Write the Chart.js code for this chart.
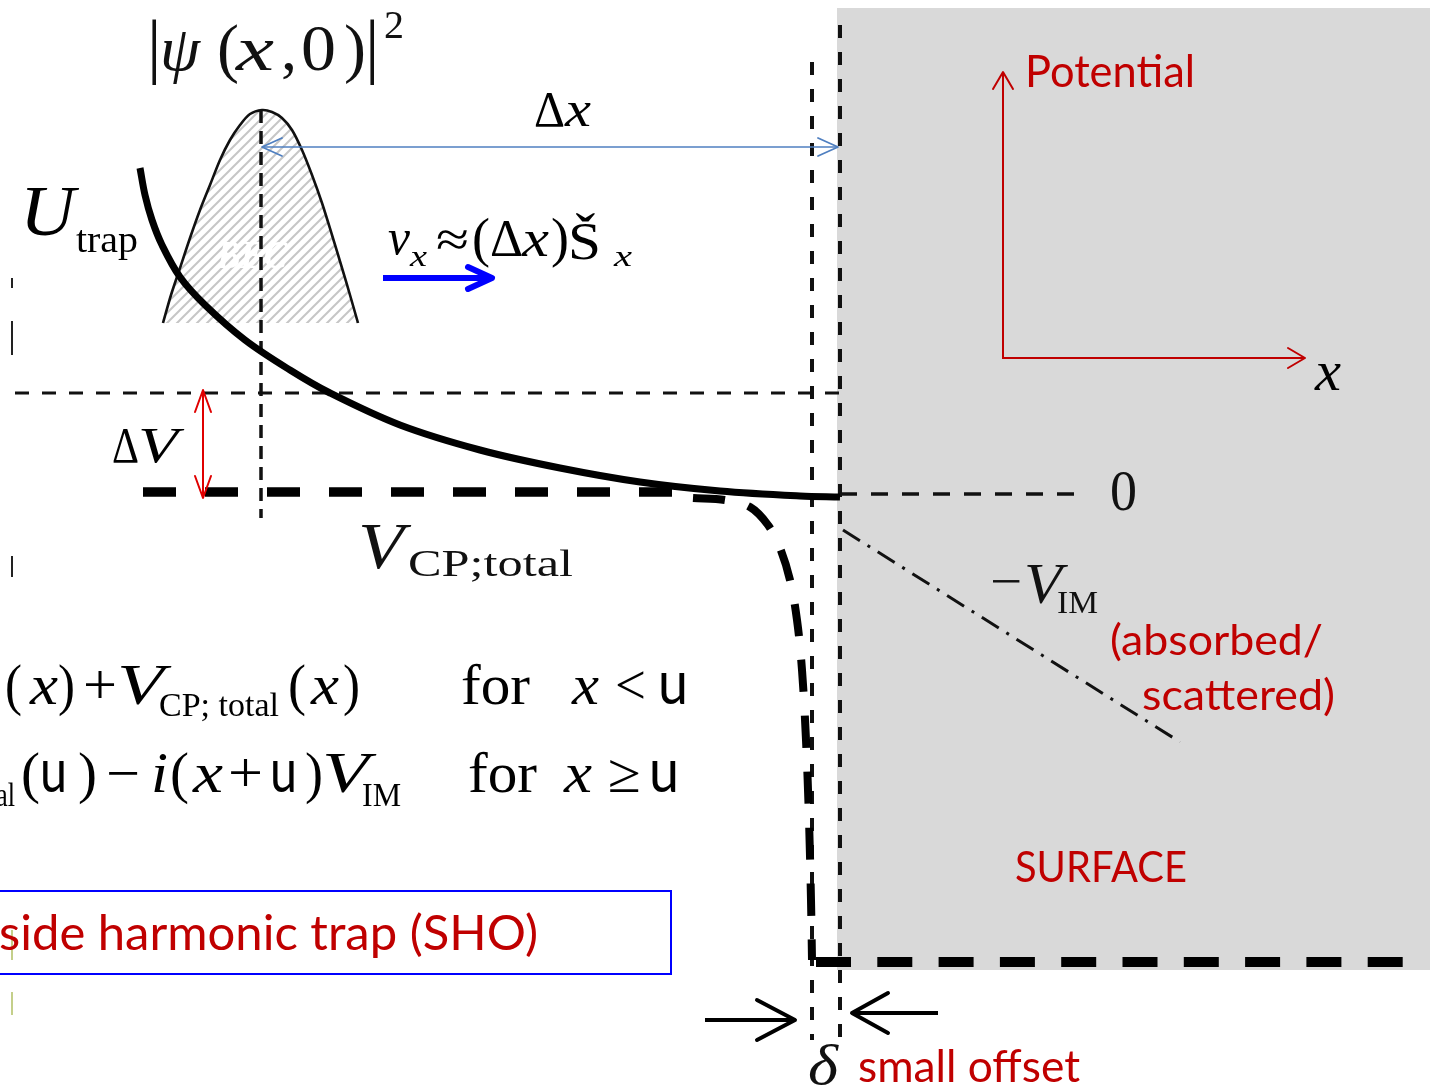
<!DOCTYPE html>
<html><head><meta charset="utf-8">
<style>html,body{margin:0;padding:0;background:#fff;overflow:hidden}#wrap{width:1430px;height:1089px}</style>
<script src="https://cdn.jsdelivr.net/npm/chart.js@4.4.1/dist/chart.umd.min.js"></script>
</head><body><div id="wrap"><canvas id="c" width="1430" height="1089"></canvas></div>
<script>
// ===== data (diagram units on a 1430 x 1089 grid, y downwards) =====
const trapX = [140,145,152,162,180,205,245,290,330,400,480,560,640,720,800,840];
const trapY = [168,195,220,245,277,305,340,370,393,425,450,468,482,491,496,497];
const becX  = [163,171,180,190,200,210,220,230,240,250,262,272,282,292,302,312,322,332,342,350,358];
const becY  = [323,295,268,238,210,185,160,140,125,114,110,112,118,130,150,175,203,235,268,295,323];
const becBase = 323;
const cpX = [143,690];           const cpY = [492,492];
const levelX = [15,840];         const levelY = [393,393];
const centerX = [261,261];       const centerY = [110,518];
const wallLX = [812,812];        const wallLY = [62,1040];
const wallRX = [840,840];        const wallRY = [25,1040];
const zeroX = [840,1075];        const zeroY = [494,494];
const imX = [843,1180];          const imY = [530,742];
const steepX = [693,725,750,768,780,790,797,802,806,809,811,812];
const steepY = [498,500,507,525,548,580,620,670,740,820,900,960];
const floorX = [816,1404];       const floorY = [962,962];
const surfX = [837,1430];        const surfY = [8,8];     const surfBottom = 970;
const boxX = [-5,671,671,-5];    const boxY = [891,891,974,974];
const dxArrowX = [262,838];      const dxArrowY = [147,147];
const dvArrowX = [203,203];      const dvArrowY = [390,498];
const vArrowX = [383,492];       const vArrowY = [278,278];
const axesX = [1003,1003,1305];  const axesY = [72,358,358];
const offLX = [705,795];         const offLY = [1020,1020];
const offRX = [938,852];         const offRY = [1013,1013];
const markX = [12,12,null,12,12,null,12,12];
const markY = [278,288,null,321,355,null,556,577];
const mark2X = [12,12,null,12,12];
const mark2Y = [930,960,null,992,1015];

const pts = (xs, ys) => xs.map((x, i) => ({x: x, y: (x === null ? null : ys[i])}));

// hatch pattern for the condensate
const tile = document.createElement('canvas');
tile.width = 10; tile.height = 10;
const tc = tile.getContext('2d');
tc.strokeStyle = '#c6c6c6'; tc.lineWidth = 2;
tc.beginPath(); tc.moveTo(-2, 12); tc.lineTo(12, -2); tc.stroke();
tc.beginPath(); tc.moveTo(-2, 2); tc.lineTo(2, -2); tc.stroke();
tc.beginPath(); tc.moveTo(8, 12); tc.lineTo(12, 8); tc.stroke();
const hatch = document.getElementById('c').getContext('2d').createPattern(tile, 'repeat');

const RED = '#c00000';
const SERIF = 'Liberation Serif';
const SANS = 'Lato';

// text annotations: [text, x, baseline y, font, color, target width]
const labels = [
  ['|', 147, 70, '72px ' + SERIF, '#111', 0],
  ['ψ', 160, 70, 'italic 64px ' + SERIF, '#111', 40],
  ['(', 217, 70, '66px ' + SERIF, '#111', 0],
  ['x', 236, 70, 'italic 64px ' + SERIF, '#111', 38],
  [',', 281, 70, '64px ' + SERIF, '#111', 0],
  ['0', 301, 70, '66px ' + SERIF, '#111', 35],
  [')', 344, 70, '66px ' + SERIF, '#111', 0],
  ['|', 365, 70, '72px ' + SERIF, '#111', 0],
  ['2', 384, 38, '40px ' + SERIF, '#111', 0],
  ['Δ', 534, 126, '50px ' + SERIF, '#000', 31],
  ['x', 565, 126, 'italic 50px ' + SERIF, '#000', 26],
  ['U', 20, 235, 'italic 72px ' + SERIF, '#000', 55],
  ['trap', 76, 252, '38px ' + SERIF, '#000', 62],
  ['v', 388, 254, 'italic 50px ' + SERIF, '#000', 22],
  ['x', 410, 266, 'italic 30px ' + SERIF, '#000', 17],
  ['≈', 436, 256, '50px ' + SERIF, '#000', 33],
  ['(', 472, 256, '54px ' + SERIF, '#000', 0],
  ['Δ', 490, 256, '52px ' + SERIF, '#000', 33],
  ['x', 522, 256, 'italic 52px ' + SERIF, '#000', 27],
  [')', 551, 256, '54px ' + SERIF, '#000', 0],
  ['Š', 568, 259, '52px ' + SERIF, '#000', 33],
  ['x', 614, 266, 'italic 30px ' + SERIF, '#000', 18],
  ['Δ', 112, 462, '50px ' + SERIF, '#000', 27],
  ['V', 138, 462, 'italic 50px ' + SERIF, '#000', 40],
  ['V', 358, 568, 'italic 66px ' + SERIF, '#111', 46],
  ['CP;total', 408, 576, '38px ' + SERIF, '#111', 165],
  ['0', 1110, 510, '58px ' + SERIF, '#111', 27],
  ['−', 990, 598, '50px ' + SERIF, '#111', 32],
  ['V', 1024, 603, 'italic 56px ' + SERIF, '#111', 38],
  ['IM', 1057, 613, '32px ' + SERIF, '#111', 41],
  // formula line 1
  ['(', 5, 704, '56px ' + SERIF, '#000', 17],
  ['x', 30, 704, 'italic 56px ' + SERIF, '#000', 28],
  [')', 58, 704, '56px ' + SERIF, '#000', 17],
  ['+', 83, 704, '56px ' + SERIF, '#000', 34],
  ['V', 117, 704, 'italic 56px ' + SERIF, '#000', 47],
  ['CP; total', 159, 716, '33px ' + SERIF, '#000', 120],
  ['(', 288, 704, '56px ' + SERIF, '#000', 18],
  ['x', 311, 704, 'italic 56px ' + SERIF, '#000', 28],
  [')', 343, 704, '56px ' + SERIF, '#000', 17],
  ['for', 461, 704, '56px ' + SERIF, '#000', 69],
  ['x', 572, 704, 'italic 56px ' + SERIF, '#000', 27],
  ['<', 615, 704, '56px ' + SERIF, '#000', 31],
  ['u', 658, 704, '60px ' + SANS, '#000', 30],
  // formula line 2
  ['al', -4, 806, '33px ' + SERIF, '#000', 19],
  ['(', 21, 792, '56px ' + SERIF, '#000', 19],
  ['u', 40, 792, '60px ' + SANS, '#000', 27],
  [')', 78, 792, '56px ' + SERIF, '#000', 19],
  ['−', 106, 792, '56px ' + SERIF, '#000', 34],
  ['i', 151, 792, 'italic 56px ' + SERIF, '#000', 17],
  ['(', 170, 792, '56px ' + SERIF, '#000', 19],
  ['x', 193, 792, 'italic 56px ' + SERIF, '#000', 30],
  ['+', 228, 792, '56px ' + SERIF, '#000', 35],
  ['u', 270, 792, '60px ' + SANS, '#000', 27],
  [')', 305, 792, '56px ' + SERIF, '#000', 18],
  ['V', 322, 792, 'italic 56px ' + SERIF, '#000', 47],
  ['IM', 362, 806, '33px ' + SERIF, '#000', 39],
  ['for', 468, 792, '56px ' + SERIF, '#000', 69],
  ['x', 564, 792, 'italic 56px ' + SERIF, '#000', 28],
  ['≥', 608, 792, '56px ' + SERIF, '#000', 33],
  ['u', 649, 792, '60px ' + SANS, '#000', 30],
  // red annotations
  ['side harmonic trap (SHO)', -1, 950, '48px ' + SANS, RED, 539],
  ['Potential', 1025, 87, '44px ' + SANS, RED, 170],
  ['x', 1315, 390, 'italic 56px ' + SERIF, '#000', 26],
  ['(absorbed/', 1110, 655, '42px ' + SANS, RED, 213],
  ['scattered)', 1142, 710, '42px ' + SANS, RED, 193],
  ['SURFACE', 1015, 882, '42px ' + SANS, RED, 172],
  ['δ', 808, 1084, 'italic 56px ' + SERIF, '#111', 30],
  ['small offset', 858, 1082, '44px ' + SANS, RED, 222]
];
const becLabel = ['BEC', 217, 268, 'italic bold 40px ' + SERIF, '#ffffff', 70];

function drawLabel(chart, L) {
  const ctx = chart.ctx, xs = chart.scales.x, ys = chart.scales.y;
  const px = xs.getPixelForValue(L[1]), py = ys.getPixelForValue(L[2]);
  ctx.save();
  ctx.font = L[3]; ctx.fillStyle = L[4]; ctx.textBaseline = 'alphabetic'; ctx.textAlign = 'left';
  const m = ctx.measureText(L[0]).width;
  const sx = L[5] ? L[5] / m : 1;
  ctx.translate(px, py); ctx.scale(sx, 1);
  ctx.fillText(L[0], 0, 0);
  ctx.restore();
}

function head(ctx, tx, ty, fx, fy, len, half, color, width) {
  const a = Math.atan2(ty - fy, tx - fx), c = Math.cos(a), s = Math.sin(a);
  ctx.save();
  ctx.strokeStyle = color; ctx.lineWidth = width; ctx.lineCap = 'round'; ctx.lineJoin = 'round';
  ctx.beginPath();
  ctx.moveTo(tx - len * c + half * s, ty - len * s - half * c);
  ctx.lineTo(tx, ty);
  ctx.lineTo(tx - len * c - half * s, ty - len * s + half * c);
  ctx.stroke();
  ctx.restore();
}

const diagramPlugin = {
  id: 'diagram',
  afterDatasetDraw(chart, args) {
    const ds = chart.data.datasets[args.index];
    if (ds.id === 'bec') drawLabel(chart, becLabel);
  },
  afterDatasetsDraw(chart) {
    const ctx = chart.ctx;
    chart.data.datasets.forEach((ds, i) => {
      if (!ds.heads) return;
      const p = chart.getDatasetMeta(i).data;
      const h = ds.heads;
      if (h.end) head(ctx, p[p.length-1].x, p[p.length-1].y, p[p.length-2].x, p[p.length-2].y, h.len, h.half, ds.borderColor, h.w);
      if (h.start) head(ctx, p[0].x, p[0].y, p[1].x, p[1].y, h.len, h.half, ds.borderColor, h.w);
    });
    labels.forEach(L => drawLabel(chart, L));
  }
};

const base = {showLine: true, pointRadius: 0, fill: false, tension: 0, borderCapStyle: 'butt'};
const datasets = [
  Object.assign({}, base, {id: 'surface', data: pts(surfX, surfY), borderWidth: 0, borderColor: 'rgba(0,0,0,0)', backgroundColor: '#d9d9d9', fill: {value: surfBottom}, order: 100}),
  Object.assign({}, base, {id: 'box', data: pts(boxX.concat([boxX[0]]), boxY.concat([boxY[0]])), borderColor: '#0000ff', borderWidth: 2, order: 95}),
  Object.assign({}, base, {id: 'bec', data: pts(becX, becY), borderColor: '#111', borderWidth: 2.6, backgroundColor: hatch, fill: {value: becBase}, tension: 0.3, order: 90}),
  Object.assign({}, base, {id: 'level', data: pts(levelX, levelY), borderColor: '#111', borderWidth: 3.2, borderDash: [14, 13], order: 60}),
  Object.assign({}, base, {id: 'center', data: pts(centerX, centerY), borderColor: '#111', borderWidth: 3.5, borderDash: [13, 8], order: 60}),
  Object.assign({}, base, {id: 'wallL', data: pts(wallLX, wallLY), borderColor: '#111', borderWidth: 4, borderDash: [13, 14], order: 60}),
  Object.assign({}, base, {id: 'wallR', data: pts(wallRX, wallRY), borderColor: '#111', borderWidth: 4, borderDash: [13, 14], order: 60}),
  Object.assign({}, base, {id: 'zero', data: pts(zeroX, zeroY), borderColor: '#111', borderWidth: 3.5, borderDash: [17, 14], order: 60}),
  Object.assign({}, base, {id: 'im', data: pts(imX, imY), borderColor: '#111', borderWidth: 3, borderDash: [20, 9, 3, 9], order: 60}),
  Object.assign({}, base, {id: 'cp', data: pts(cpX, cpY), borderColor: '#000', borderWidth: 9.5, borderDash: [33, 29], order: 50}),
  Object.assign({}, base, {id: 'steep', data: pts(steepX, steepY), borderColor: '#000', borderWidth: 8, borderDash: [32, 24], tension: 0.35, order: 50}),
  Object.assign({}, base, {id: 'floor', data: pts(floorX, floorY), borderColor: '#000', borderWidth: 10, borderDash: [35, 26.3], order: 50}),
  Object.assign({}, base, {id: 'trap', data: pts(trapX, trapY), borderColor: '#000', borderWidth: 7, tension: 0.35, order: 40}),
  Object.assign({}, base, {id: 'dx', data: pts(dxArrowX, dxArrowY), borderColor: '#4f7fc0', borderWidth: 1.6, heads: {start: true, end: true, len: 20, half: 9, w: 1.8}, order: 30}),
  Object.assign({}, base, {id: 'dv', data: pts(dvArrowX, dvArrowY), borderColor: '#e00000', borderWidth: 2, heads: {start: true, end: true, len: 22, half: 8, w: 2}, order: 30}),
  Object.assign({}, base, {id: 'v', data: pts(vArrowX, vArrowY), borderColor: '#0000ff', borderWidth: 6, heads: {end: true, len: 24, half: 11, w: 6}, order: 30}),
  Object.assign({}, base, {id: 'axes', data: pts(axesX, axesY), borderColor: RED, borderWidth: 2, heads: {start: true, end: true, len: 17, half: 10, w: 2}, order: 30}),
  Object.assign({}, base, {id: 'offL', data: pts(offLX, offLY), borderColor: '#000', borderWidth: 4, heads: {end: true, len: 38, half: 20, w: 4}, order: 30}),
  Object.assign({}, base, {id: 'offR', data: pts(offRX, offRY), borderColor: '#000', borderWidth: 4, heads: {end: true, len: 36, half: 20, w: 4}, order: 30}),
  Object.assign({}, base, {id: 'marks', data: pts(markX, markY), borderColor: '#222', borderWidth: 2, spanGaps: false, order: 30}),
  Object.assign({}, base, {id: 'marks2', data: pts(mark2X, mark2Y), borderColor: '#c4cf8a', borderWidth: 2, spanGaps: false, order: 30})
];

new Chart(document.getElementById('c'), {
  type: 'scatter',
  data: {datasets: datasets},
  options: {
    responsive: false, animation: false, devicePixelRatio: 1,
    layout: {padding: 0},
    clip: false,
    plugins: {legend: {display: false}, tooltip: {enabled: false}},
    scales: {
      x: {type: 'linear', min: 0, max: 1430, display: false},
      y: {type: 'linear', min: 0, max: 1089, reverse: true, display: false}
    }
  },
  plugins: [diagramPlugin]
});
</script></body></html>
